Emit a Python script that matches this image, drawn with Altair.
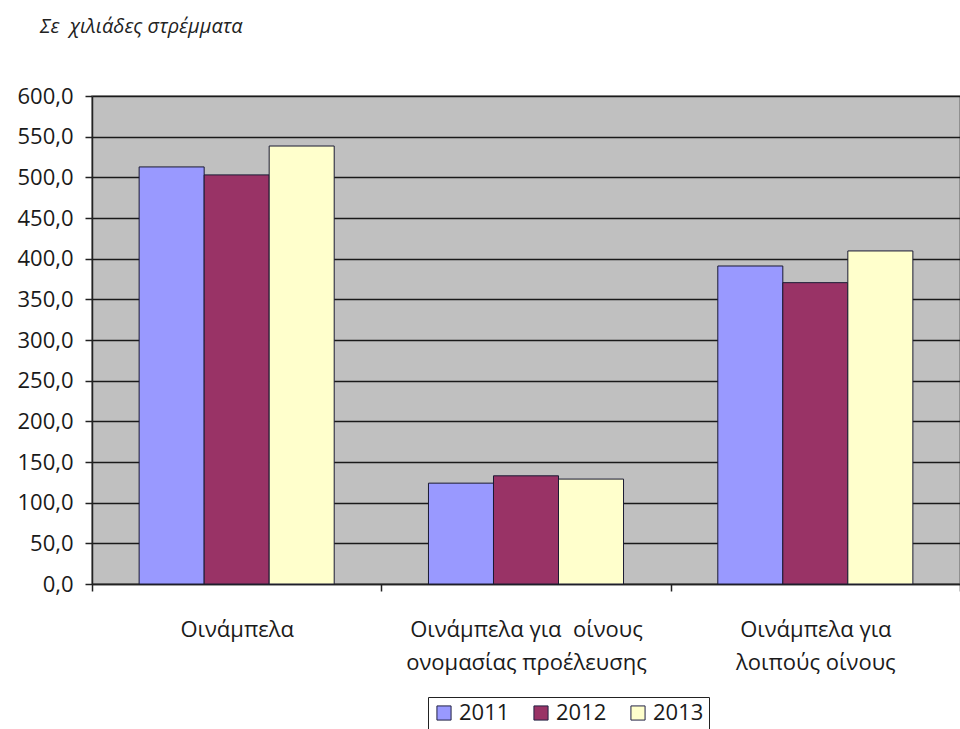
import altair as alt
import pandas as pd

# Vineyard area by category and year (thousand stremmata)
categories = [
    "Οινάμπελα",
    "Οινάμπελα για  οίνους ονομασίας προέλευσης",
    "Οινάμπελα για λοιπούς οίνους",
]
category_lines = {
    "Οινάμπελα": ["Οινάμπελα"],
    "Οινάμπελα για  οίνους ονομασίας προέλευσης": ["Οινάμπελα για\u00a0\u00a0οίνους", "ονομασίας προέλευσης"],
    "Οινάμπελα για λοιπούς οίνους": ["Οινάμπελα για", "λοιπούς οίνους"],
}
years = ["2011", "2012", "2013"]
values_2011 = [512.8, 124.0, 391.0]
values_2012 = [503.0, 133.0, 370.5]
values_2013 = [538.5, 129.0, 409.5]
colors = ["#9999FF", "#993366", "#FFFFCC"]

rows = []
for year, series in zip(years, [values_2011, values_2012, values_2013]):
    for cat, v in zip(categories, series):
        rows.append({"category": cat, "year": year, "value": v})
df = pd.DataFrame(rows)

# multi-line category labels; the extra boundary tick gets no label
label_expr = " : ".join(
    "datum.value == '" + c + "' ? ['" + "','".join(category_lines[c]) + "']" for c in categories
) + " : ''"

font = "Open Sans"

bars = alt.Chart(df).mark_bar(stroke="#1a1a33", strokeWidth=1).encode(
    x=alt.X(
        "category:N",
        sort=categories,
        title=None,
        scale=alt.Scale(paddingInner=0, paddingOuter=0),
        axis=alt.Axis(
            labelAngle=0,
            labelExpr=label_expr,
            labelFont=font,
            labelFontSize=22,
            labelColor="#1a1a1a",
            labelPadding=28,
            labelLineHeight=33,
            labelLimit=400,
            tickBand="extent",
            tickColor="#222222",
            tickSize=7,
            tickWidth=1.5,
            domainColor="#222222",
            domainWidth=1.5,
            grid=False,
        ),
    ),
    xOffset=alt.XOffset("year:N", sort=years, scale=alt.Scale(paddingInner=0, paddingOuter=0.725)),
    y=alt.Y(
        "value:Q",
        title=None,
        scale=alt.Scale(domain=[0, 600], nice=False),
        axis=alt.Axis(
            values=list(range(0, 601, 50)),
            labelExpr="replace(format(datum.value, '.1f'), '.', ',')",
            labelFont=font,
            labelFontSize=22,
            labelFontWeight=500,
            labelColor="#1a1a1a",
            labelPadding=12,
            tickColor="#222222",
            tickSize=7,
            tickWidth=1.5,
            domainColor="#222222",
            domainWidth=1.5,
            gridColor="#1a1a1a",
            gridWidth=1.5,
        ),
    ),
    color=alt.Color(
        "year:N",
        sort=years,
        scale=alt.Scale(domain=years, range=colors),
        legend=alt.Legend(
            title=None,
            orient="none",
            legendX=336,
            legendY=601,
            direction="horizontal",
            symbolType="square",
            symbolSize=200,
            symbolStrokeColor="#222244",
            symbolStrokeWidth=1,
            labelFont=font,
            labelFontSize=22,
            labelColor="#1a1a1a",
            strokeColor="#222222",
            padding=5,
            columnPadding=20,
            labelOffset=4,
        ),
    ),
).properties(
    width=868,
    height=488,
    title=alt.TitleParams(
        "Σε\u00a0\u00a0χιλιάδες στρέμματα",
        anchor="start",
        frame="group",
        dx=-52,
        offset=48,
        font=font,
        fontSize=20,
        fontStyle="italic",
        fontWeight="normal",
        color="#222222",
    ),
).configure_view(
    fill="#C0C0C0",
    stroke="#808080",
    strokeWidth=1.5,
).properties(
    autosize=alt.AutoSizeParams(type="none"),
    padding={"left": 92, "top": 96, "right": 0, "bottom": 145},
    background="white",
)

chart = bars
chart.save("out.html", embed_options={"renderer": "svg", "actions": False})
